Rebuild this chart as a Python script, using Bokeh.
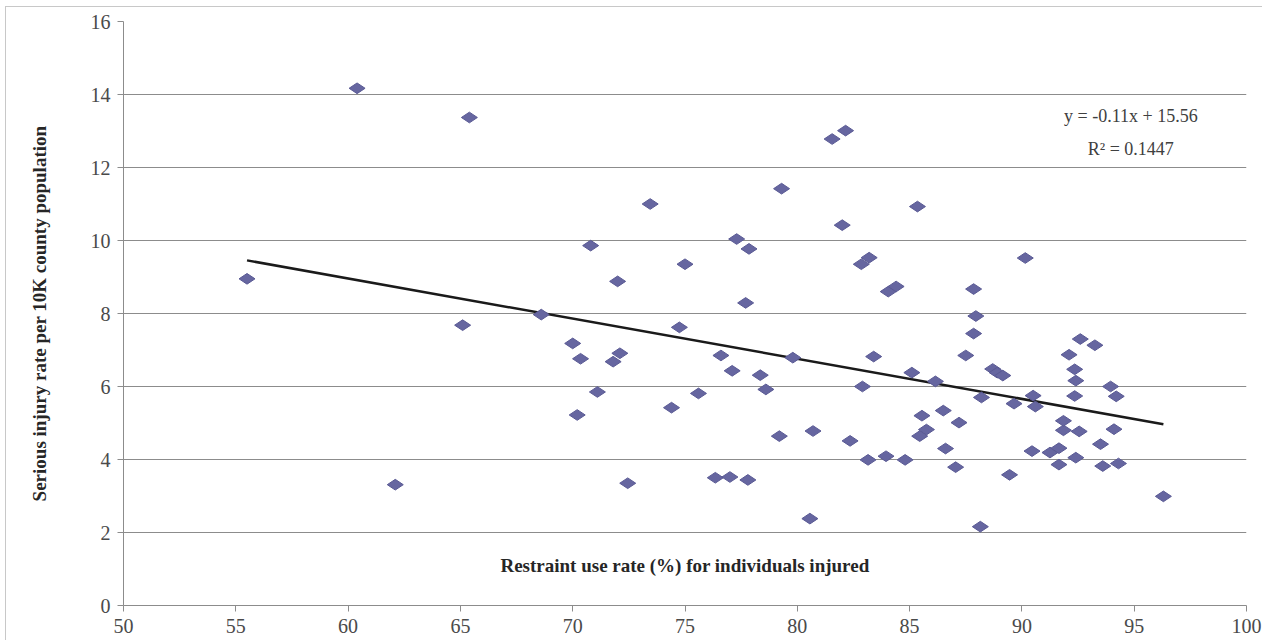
import math
from bokeh.plotting import figure
from bokeh.models import Range1d, FixedTicker, Label
from bokeh.embed import file_html
from bokeh.resources import INLINE

restraint_use = [
    55.5, 60.4, 62.1, 65.1, 65.4, 68.6, 70.0, 70.35, 70.2, 70.8,
    71.1, 71.8, 72.0, 72.1, 72.45, 73.45, 74.4, 74.75, 75.0, 75.6,
    76.35, 76.6, 77.0, 77.1, 77.3, 77.7, 77.8, 77.85, 78.35, 78.6,
    79.2, 79.3, 79.8, 80.56, 80.7, 81.55, 82.0, 82.15, 82.35, 82.85,
    83.2, 82.9, 83.15, 83.4, 83.95, 84.05, 84.4, 84.8, 85.1, 85.35,
    85.55, 85.45, 85.75, 86.15, 86.5, 86.6, 87.05, 87.2, 87.5, 87.85,
    87.85, 87.95, 88.2, 88.15, 88.7, 88.9, 89.15, 89.45, 89.65, 90.15,
    90.45, 90.5, 90.6, 91.25, 91.65, 91.65, 91.85, 91.85, 92.1, 92.35,
    92.4, 92.35, 92.4, 92.6, 92.55, 93.25, 93.5, 93.6, 93.95, 94.1,
    94.2, 94.3, 96.3,
]
injury_rate = [
    8.95, 14.17, 3.31, 7.68, 13.37, 7.97, 7.18, 6.76, 5.22, 9.86,
    5.85, 6.68, 8.88, 6.91, 3.35, 11.0, 5.42, 7.62, 9.35, 5.81,
    3.5, 6.85, 3.52, 6.43, 10.04, 8.29, 3.44, 9.77, 6.31, 5.92,
    4.64, 11.42, 6.79, 2.38, 4.78, 12.78, 10.42, 13.01, 4.51, 9.35,
    9.53, 6.0, 3.99, 6.82, 4.09, 8.6, 8.74, 3.99, 6.38, 10.93,
    5.2, 4.64, 4.82, 6.14, 5.34, 4.3, 3.79, 5.01, 6.85, 7.45,
    8.67, 7.93, 5.7, 2.16, 6.48, 6.38, 6.3, 3.58, 5.53, 9.52,
    4.23, 5.75, 5.45, 4.19, 4.31, 3.86, 4.8, 5.06, 6.87, 6.47,
    6.16, 5.74, 4.05, 7.3, 4.77, 7.13, 4.42, 3.82, 6.0, 4.83,
    5.73, 3.89, 2.99,
]
trend_slope = -0.11
trend_intercept = 15.56
r_squared = 0.1447

x_ticks = [50, 55, 60, 65, 70, 75, 80, 85, 90, 95, 100]
y_ticks = [0, 2, 4, 6, 8, 10, 12, 14, 16]

SERIF = "Liberation Serif"

p = figure(width=1257, height=634, output_backend="svg", toolbar_location=None,
           x_range=Range1d(50, 100), y_range=Range1d(0, 16),
           min_border_left=117, min_border_right=17, min_border_top=14, min_border_bottom=36,
           margin=(6, 0, 0, 5))
p.styles = {"border-left": "1px solid #c8c8c8", "border-top": "1px solid #c8c8c8"}
p.outline_line_color = None
p.background_fill_color = "white"
p.border_fill_color = "white"

p.xgrid.visible = False
p.ygrid.grid_line_color = "#8c8c8c"
p.ygrid.grid_line_width = 1

for ax in (p.xaxis[0], p.yaxis[0]):
    ax.axis_line_color = "#8c8c8c"
    ax.major_tick_line_color = "#8c8c8c"
    ax.minor_tick_line_color = None
    ax.major_tick_in = 0
    ax.major_tick_out = 6
    ax.major_label_text_font = SERIF
    ax.major_label_text_font_size = "20px"
    ax.major_label_text_color = "#4a4a4a"

p.xaxis.ticker = FixedTicker(ticks=x_ticks)
p.yaxis.ticker = FixedTicker(ticks=y_ticks)
p.xaxis.major_label_standoff = 7
p.yaxis.major_label_standoff = 7

p.yaxis.axis_label = "Serious injury rate per 10K county population"
p.yaxis.axis_label_text_font = SERIF
p.yaxis.axis_label_text_font_style = "bold"
p.yaxis.axis_label_text_font_size = "19px"
p.yaxis.axis_label_text_color = "#262626"
p.yaxis.axis_label_standoff = 38

# trendline
tx = [min(restraint_use), max(restraint_use)]
ty = [trend_slope * v + trend_intercept for v in tx]
p.line(tx, ty, line_color="#1a1a1a", line_width=2.5)

p.scatter(restraint_use, injury_rate, marker="diamond", size=16, angle=math.pi / 2,
          fill_color="#6666a0", line_color="#5a5a94", line_width=1)

p.add_layout(Label(x=75, y=1.1, text="Restraint use rate (%) for individuals injured",
                   text_font=SERIF, text_font_style="bold", text_font_size="19px",
                   text_color="#262626", text_align="center", text_baseline="middle"))

p.add_layout(Label(x=94.85, y=13.4,
                   text="y = %.2fx + %.2f" % (trend_slope, trend_intercept),
                   text_font=SERIF, text_font_size="18px", text_color="#404040",
                   text_align="center", text_baseline="middle"))
p.add_layout(Label(x=94.85, y=12.52, text="R\u00b2 = %.4f" % r_squared,
                   text_font=SERIF, text_font_size="18px", text_color="#404040",
                   text_align="center", text_baseline="middle"))

open("out.html", "w").write(file_html(p, INLINE))
